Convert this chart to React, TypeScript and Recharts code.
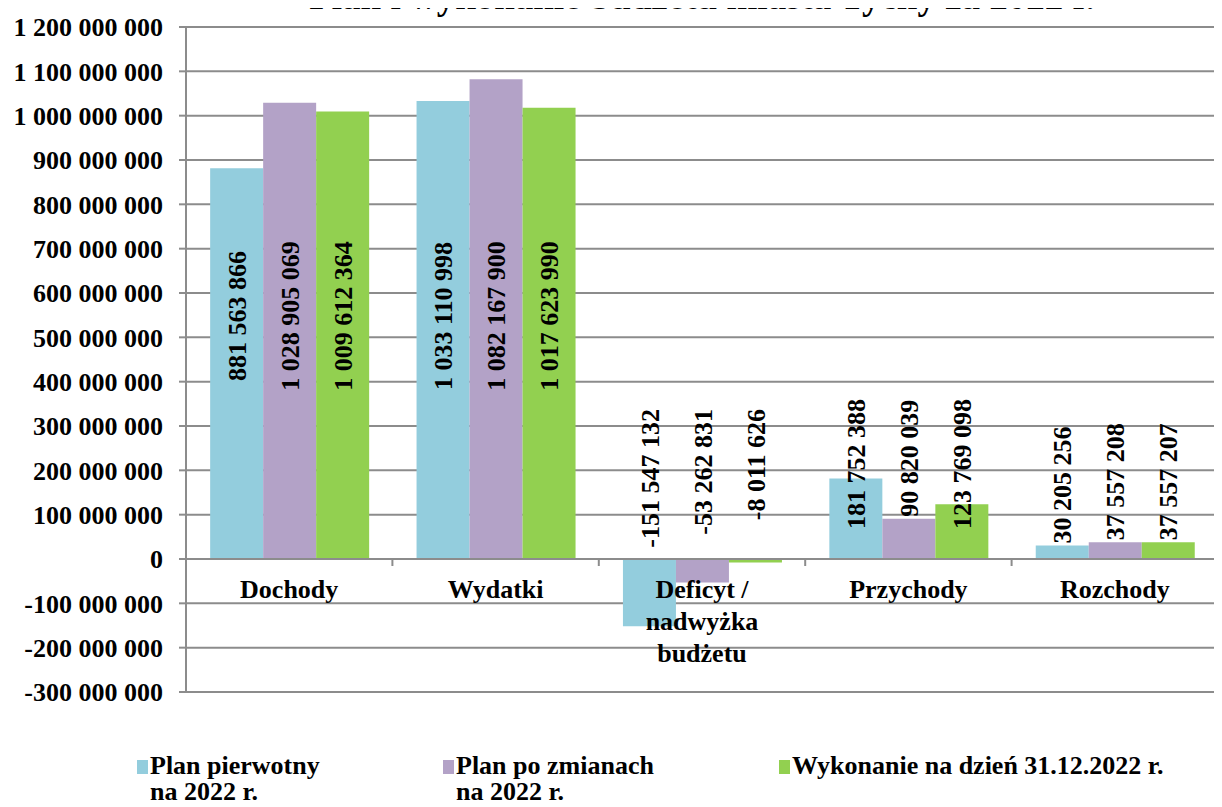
import { BarChart, Bar, XAxis, YAxis, CartesianGrid, Legend, ReferenceLine, LabelList } from 'recharts';

// Budget plan vs execution, city of Tychy, 2022 (PLN)

const CATEGORIES = ['Dochody', 'Wydatki', 'Deficyt /\nnadwyżka\nbudżetu', 'Przychody', 'Rozchody'];
const PLAN_PIERWOTNY = [881563866, 1033110998, -151547132, 181752388, 30205256];
const PLAN_PO_ZMIANACH = [1028905069, 1082167900, -53262831, 90820039, 37557208];
const WYKONANIE = [1009612364, 1017623990, -8011626, 123769098, 37557207];

const SERIES_NAMES = ['Plan pierwotny\nna 2022 r.', 'Plan po zmianach\nna 2022 r.', 'Wykonanie na dzień 31.12.2022 r.'];
const COLORS = ['#93cddd', '#b3a2c7', '#92d050'];

const Y_TICKS = [
  -300000000, -200000000, -100000000, 0, 100000000, 200000000, 300000000, 400000000,
  500000000, 600000000, 700000000, 800000000, 900000000, 1000000000, 1100000000, 1200000000,
];
const Y_MIN = -300000000;
const Y_MAX = 1200000000;

const TITLE = 'Plan i wykonanie budżetu miasta Tychy za 2022 r.';

const data = CATEGORIES.map((name, i) => ({
  name,
  a: PLAN_PIERWOTNY[i],
  b: PLAN_PO_ZMIANACH[i],
  c: WYKONANIE[i],
}));

// ─── layout ───────────────────────────────────────────────────────────────────
const W = 1222;
const H = 807;
const MARGIN = { top: 27, right: 4, bottom: 0, left: 0 };
const Y_AXIS_W = 186;
const X_AXIS_H = 58;
const LEGEND_H = 57;
const PLOT_W = W - MARGIN.left - MARGIN.right - Y_AXIS_W;
const PLOT_H = H - MARGIN.top - MARGIN.bottom - X_AXIS_H - LEGEND_H;
const BAND = PLOT_W / CATEGORIES.length;

const FONT = "'Liberation Serif', 'Times New Roman', Tinos, 'DejaVu Serif', serif";
const FS = 26;
const GRID = '#8c8c8c';

const fmt = (v: number) => {
  const s = String(Math.abs(v)).replace(/\B(?=(\d{3})+(?!\d))/g, ' ');
  return v < 0 ? '-' + s : s;
};

// rough text length of a number label (bold serif, 26px)
const labelLen = (s: string) =>
  s.split('').reduce((acc, ch) => acc + (ch === ' ' ? 0.25 : ch === '-' ? 0.333 : 0.5) * FS, 0);

function ValueLabel(props: any) {
  const { x, y, width, height, value } = props;
  if (value == null) return null;
  const top = Math.min(y, y + height);
  const bottom = Math.max(y, y + height);
  const zero = value >= 0 ? bottom : top;
  const cx = x + width / 2;
  const txt = fmt(value);
  let ty: number;
  let anchor: 'start' | 'middle' | 'end';
  if (value >= 500000000) {
    ty = zero - 243;
    anchor = 'middle';
  } else if (value < 0) {
    ty = zero - 150;
    anchor = 'end';
  } else {
    ty = Math.max(zero - 160 + labelLen(txt), top - 2);
    anchor = 'start';
  }
  return (
    <text
      x={cx}
      y={ty}
      dy="0.35em"
      transform={`rotate(-90 ${cx} ${ty})`}
      textAnchor={anchor}
      style={{ fontFamily: FONT, fontWeight: 'bold', fontSize: FS }}
      fill="#000"
    >
      {txt}
    </text>
  );
}

function CategoryTick(props: any) {
  const { x, y, payload, index } = props;
  // axis sits at the bottom of the plot; labels hang under the zero line
  const zeroY = y - (PLOT_H * (0 - Y_MIN)) / (Y_MAX - Y_MIN);
  const lines = String(payload.value).split('\n');
  return (
    <g>
      <line x1={x - BAND / 2} x2={x - BAND / 2} y1={zeroY} y2={zeroY + 7} stroke={GRID} strokeWidth={2} />
      {index === CATEGORIES.length - 1 && (
        <line x1={x + BAND / 2} x2={x + BAND / 2} y1={zeroY} y2={zeroY + 7} stroke={GRID} strokeWidth={2} />
      )}
      <text x={x} y={zeroY + 39} textAnchor="middle" style={{ fontFamily: FONT, fontWeight: 'bold', fontSize: FS }} fill="#000">
        {lines.map((l, i) => (
          <tspan key={i} x={x} dy={i === 0 ? 0 : 32}>
            {l}
          </tspan>
        ))}
      </text>
    </g>
  );
}

function LegendContent() {
  const starts = [137, 443, 779];
  return (
    <div style={{ position: 'relative', width: W, height: LEGEND_H, fontFamily: FONT, fontWeight: 'bold', fontSize: FS, color: '#000' }}>
      {SERIES_NAMES.map((n, i) => (
        <div key={n} style={{ position: 'absolute', left: starts[i], top: 0, display: 'flex', alignItems: 'flex-start' }}>
          <div style={{ width: 11, height: 14, background: COLORS[i], marginTop: 7, marginRight: 2 }} />
          <div style={{ whiteSpace: 'pre-line', lineHeight: '26px', textAlign: 'left' }}>{n}</div>
        </div>
      ))}
    </div>
  );
}

export default function App() {
  return (
    <div style={{ position: 'relative', width: W, height: H, margin: '-8px 0 0 -8px', background: '#fff', overflow: 'hidden' }}>
      <div
        style={{
          position: 'absolute',
          left: MARGIN.left + Y_AXIS_W,
          width: PLOT_W,
          top: -22,
          lineHeight: '37px',
          textAlign: 'center',
          fontFamily: FONT,
          fontWeight: 'bold',
          fontSize: 37,
          color: '#000',
          zIndex: 2,
        }}
      >
        {TITLE}
      </div>
      <BarChart width={W} height={H} data={data} margin={MARGIN} barCategoryGap="11.7%" barGap={0}>
        <CartesianGrid vertical={false} stroke={GRID} strokeWidth={2} />
        <XAxis
          dataKey="name"
          height={X_AXIS_H}
          axisLine={false}
          tickLine={false}
          tickSize={0}
          tickMargin={0}
          interval={0}
          tick={<CategoryTick />}
        />
        <YAxis
          width={Y_AXIS_W}
          domain={[Y_MIN, Y_MAX]}
          ticks={Y_TICKS}
          interval={0}
          tickFormatter={fmt}
          axisLine={{ stroke: GRID, strokeWidth: 2 }}
          tickLine={{ stroke: GRID, strokeWidth: 2 }}
          tickSize={7}
          tickMargin={16}
          tick={{ style: { fontFamily: FONT, fontWeight: 'bold', fontSize: FS }, fill: '#000' }}
        />
        <ReferenceLine y={0} stroke={GRID} strokeWidth={2} />
        <Bar dataKey="a" name={SERIES_NAMES[0]} fill={COLORS[0]} isAnimationActive={false}>
          <LabelList dataKey="a" content={<ValueLabel />} />
        </Bar>
        <Bar dataKey="b" name={SERIES_NAMES[1]} fill={COLORS[1]} isAnimationActive={false}>
          <LabelList dataKey="b" content={<ValueLabel />} />
        </Bar>
        <Bar dataKey="c" name={SERIES_NAMES[2]} fill={COLORS[2]} isAnimationActive={false}>
          <LabelList dataKey="c" content={<ValueLabel />} />
        </Bar>
        <Legend
          verticalAlign="bottom"
          content={<LegendContent />}
          wrapperStyle={{ top: H - LEGEND_H + 3, left: 0, bottom: 'auto', width: W, height: LEGEND_H }}
        />
      </BarChart>
    </div>
  );
}
